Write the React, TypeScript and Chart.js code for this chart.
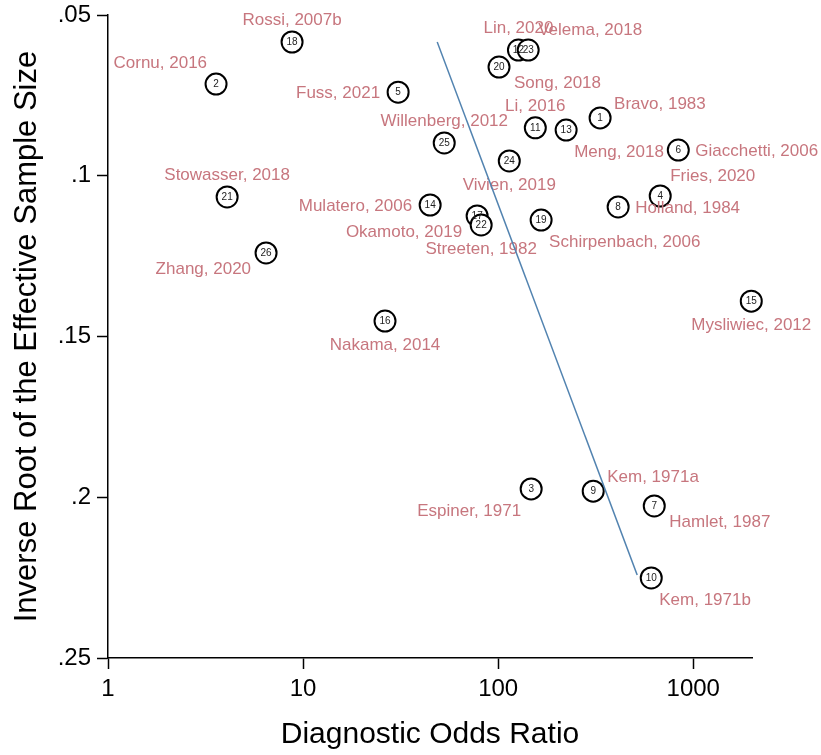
import React, { useEffect, useRef } from "react";
import { Chart, registerables } from "chart.js";

Chart.register(...registerables);

// Study labels (study number = index + 1)
const studyNames = [
  "Bravo, 1983", "Cornu, 2016", "Espiner, 1971", "Fries, 2020", "Fuss, 2021",
  "Giacchetti, 2006", "Hamlet, 1987", "Holland, 1984", "Kem, 1971a", "Kem, 1971b",
  "Li, 2016", "Lin, 2020", "Meng, 2018", "Mulatero, 2006", "Mysliwiec, 2012",
  "Nakama, 2014", "Okamoto, 2019", "Rossi, 2007b", "Schirpenbach, 2006", "Song, 2018",
  "Stowasser, 2018", "Streeten, 1982", "Velema, 2018", "Vivien, 2019", "Willenberg, 2012",
  "Zhang, 2020",
];

// Diagnostic odds ratio per study
const dorValues = [
  333, 3.58, 147.6, 677, 30.7,
  838, 631, 412, 307, 609,
  155, 127, 223, 44.8, 1983,
  26.3, 78, 8.78, 166, 101,
  4.08, 81.8, 142.5, 114, 52.9,
  6.46,
];

// Inverse root of effective sample size per study
const invRootEss = [
  0.0820, 0.0715, 0.1974, 0.1063, 0.0740,
  0.0920, 0.2027, 0.1097, 0.1981, 0.2251,
  0.0851, 0.0609, 0.0858, 0.1091, 0.1390,
  0.1452, 0.1125, 0.0584, 0.1138, 0.0662,
  0.1066, 0.1153, 0.0609, 0.0954, 0.0898,
  0.1240,
];

// Label clock positions (Stata-style mlabvposition)
const labelClock = [
  2, 11, 7, 1, 9,
  3, 4, 3, 2, 5,
  12, 12, 5, 9, 6,
  6, 8, 12, 5, 4,
  12, 6, 1, 6, 12,
  8,
];

// Fitted regression line endpoints
const fitX = [48.7, 516];
const fitY = [0.0584, 0.2242];

const xTickValues = [1, 10, 100, 1000];
const yTickValues = [0.05, 0.1, 0.15, 0.2, 0.25];
const yTickLabels = [".05", ".1", ".15", ".2", ".25"];

const FONT = "'Liberation Sans', Arial, Helvetica, sans-serif";
const LABEL_COLOR = "#c7767e";

const clockOffsets: Record<number, [number, number, CanvasTextAlign]> = {
  12: [0, -22, "center"],
  1: [10, -20, "left"],
  2: [14, -14, "left"],
  3: [17, 1, "left"],
  4: [15, 16, "left"],
  5: [8, 22, "left"],
  6: [0, 24, "center"],
  7: [-10, 22, "right"],
  8: [-15, 16, "right"],
  9: [-18, 1, "right"],
  10: [-15, -14, "right"],
  11: [-9, -21, "right"],
};

const labelPlugin = {
  id: "studyLabels",
  afterDatasetDraw(chart: any, args: any) {
    if (args.index !== 0) return;
    const ctx = chart.ctx;
    const meta = chart.getDatasetMeta(0);
    ctx.save();
    meta.data.forEach((pt: any, i: number) => {
      const { x, y } = pt.getProps(["x", "y"], true);
      ctx.fillStyle = "#222";
      ctx.font = `10px ${FONT}`;
      ctx.textAlign = "center";
      ctx.textBaseline = "middle";
      ctx.fillText(String(i + 1), x, y + 0.5);
      const [dx, dy, align] = clockOffsets[labelClock[i]];
      ctx.fillStyle = LABEL_COLOR;
      ctx.font = `17px ${FONT}`;
      ctx.textAlign = align;
      ctx.textBaseline = "middle";
      ctx.fillText(studyNames[i], x + dx, y + dy);
    });
    ctx.restore();
  },
};

export default function App() {
  const ref = useRef<HTMLCanvasElement | null>(null);

  useEffect(() => {
    if (!ref.current) return;
    const chart = new Chart(ref.current, {
      type: "scatter",
      data: {
        datasets: [
          {
            data: dorValues.map((v, i) => ({ x: v, y: invRootEss[i] })),
            pointRadius: 10.5,
            pointHoverRadius: 10.5,
            pointBackgroundColor: "#ffffff",
            pointBorderColor: "#000000",
            pointBorderWidth: 2,
            clip: false,
            order: 2,
          },
          {
            data: fitX.map((v, i) => ({ x: v, y: fitY[i] })),
            showLine: true,
            borderColor: "#5283b0",
            borderWidth: 1.5,
            pointRadius: 0,
            order: 1,
          },
        ],
      },
      options: {
        animation: false,
        responsive: false,
        devicePixelRatio: 1,
        layout: { padding: { top: 15, right: 69, left: 0, bottom: 0 } },
        plugins: {
          legend: { display: false },
          tooltip: { enabled: false },
        },
        scales: {
          x: {
            type: "logarithmic",
            min: 1,
            max: 2000,
            afterBuildTicks: (scale: any) => {
              scale.ticks = xTickValues.map((v) => ({ value: v }));
            },
            afterFit: (scale: any) => {
              scale.height = 97;
              scale.paddingLeft = 0;
              scale.paddingRight = 0;
            },
            ticks: {
              callback: (v: any) => String(v),
              font: { family: FONT, size: 24 },
              color: "#000",
              padding: 6,
              maxRotation: 0,
              autoSkip: false,
            },
            grid: {
              drawOnChartArea: false,
              drawTicks: true,
              tickLength: 11,
              tickColor: "#000",
              tickWidth: 1.5,
            },
            border: { color: "#000", width: 1.5 },
            title: {
              display: true,
              text: "Diagnostic Odds Ratio",
              font: { family: FONT, size: 30 },
              color: "#000",
              padding: { bottom: 2 },
            },
          },
          y: {
            type: "linear",
            reverse: true,
            min: 0.05,
            max: 0.25,
            afterBuildTicks: (scale: any) => {
              scale.ticks = yTickValues.map((v) => ({ value: v }));
            },
            afterFit: (scale: any) => {
              scale.width = 108;
              scale.paddingTop = 0;
              scale.paddingBottom = 0;
            },
            ticks: {
              callback: (_v: any, idx: number) => yTickLabels[idx],
              font: { family: FONT, size: 24 },
              color: "#000",
              padding: 6,
              autoSkip: false,
            },
            grid: {
              drawOnChartArea: false,
              drawTicks: true,
              tickLength: 11,
              tickColor: "#000",
              tickWidth: 1.5,
            },
            border: { color: "#000", width: 1.5 },
            title: {
              display: true,
              text: "Inverse Root of the Effective Sample Size",
              font: { family: FONT, size: 31 },
              color: "#000",
              padding: { top: 9 },
            },
          },
        },
      },
      plugins: [labelPlugin],
    });
    return () => chart.destroy();
  }, []);

  return (
    <div style={{ position: "fixed", left: 0, top: 0, width: 821, height: 755, background: "#fff" }}>
      <canvas ref={ref} width={821} height={755} />
    </div>
  );
}
